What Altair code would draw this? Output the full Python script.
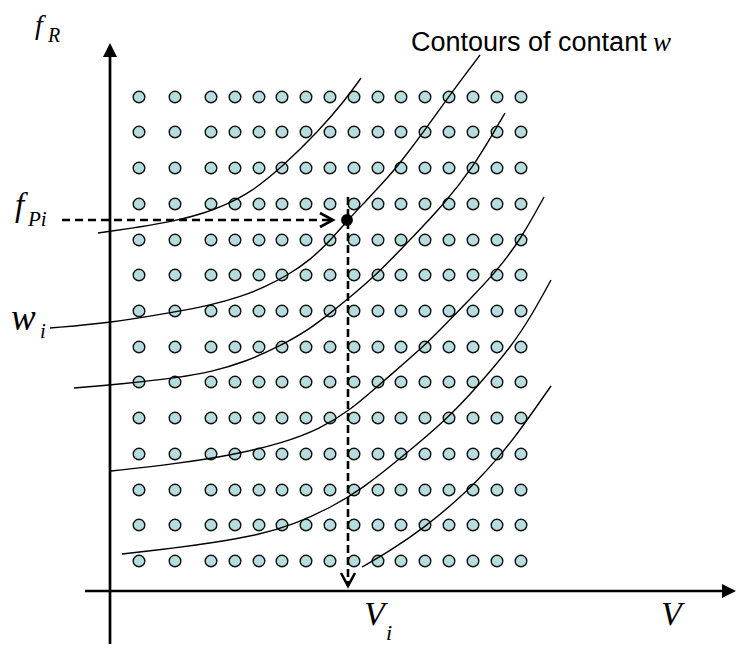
import altair as alt
import pandas as pd

# ---- data (units: V to the right of the f_R axis, f_R above the V axis) ----
V_GRID = [29, 65, 101, 125, 149, 172, 196, 220, 244, 268, 291, 315, 339, 363, 387, 411]
F_GRID = [30, 66, 101, 137, 173, 209, 244, 280, 316, 351, 387, 423, 459, 494]

W1_V = [-12, 30, 65, 95, 115, 140, 172, 208, 236, 251]
W1_F = [358, 364, 370, 378, 386, 398, 424, 459, 492, 513]
W2_V = [-60, 0, 65, 101, 130, 155, 178, 200, 220, 237, 255, 280, 290, 315, 339, 370]
W2_F = [263, 268, 279, 286, 294, 304, 316, 331, 350, 370, 389, 416, 428, 461, 495, 536]
W3_V = [-36, 0, 29, 65, 101, 135, 170, 197, 223, 245, 266, 301, 335, 363, 384, 395]
W3_F = [203, 206, 209, 213, 219, 229, 245, 260, 280, 298, 316, 352, 388, 424, 459, 478]
W4_V = [1, 65, 123, 173, 210, 240, 262, 290, 315, 335, 358, 386, 411, 434]
W4_F = [120, 127, 136, 148, 162, 181, 200, 224, 246, 266, 290, 319, 352, 394]
W5_V = [12, 65, 101, 149, 185, 220, 252, 292, 337, 366, 402, 423, 441]
W5_F = [37, 43, 48, 56, 67, 83, 102, 134, 172, 203, 245, 278, 311]
W6_V = [252, 280, 315, 345, 368, 387, 405, 422, 441]
W6_F = [24, 40, 64, 89, 111, 132, 154, 178, 205]

V_I = 238      # chosen V_i
F_PI = 371     # corresponding f_Pi

grid = pd.DataFrame([(v, f) for f in F_GRID for v in V_GRID], columns=["V", "f"])

curves = []
for name, vs, fs in [("w1", W1_V, W1_F), ("w2", W2_V, W2_F), ("w3", W3_V, W3_F),
                     ("w4", W4_V, W4_F), ("w5", W5_V, W5_F), ("w6", W6_V, W6_F)]:
    for k, (v, f) in enumerate(zip(vs, fs)):
        curves.append({"curve": name, "k": k, "V": v, "f": f})
curves = pd.DataFrame(curves)

# ---- scales ----
XS = alt.Scale(domain=[-102, 627], nice=False, zero=False)
YS = alt.Scale(domain=[-53, 583], nice=False, zero=False)


def X(v):
    return alt.XDatum(v, scale=XS, axis=None)


def Y(f):
    return alt.YDatum(f, scale=YS, axis=None)


def X2(v):
    return alt.X2Datum(v)


def Y2(f):
    return alt.Y2Datum(f)


base_x = alt.X("V:Q", scale=XS, axis=None)
base_y = alt.Y("f:Q", scale=YS, axis=None)

dots = alt.Chart(grid).mark_circle(
    size=135, fill="#B6DCDE", stroke="#111111", strokeWidth=1.4, opacity=1
).encode(x=base_x, y=base_y)

lines = alt.Chart(curves).mark_line(
    interpolate="basis", color="black", strokeWidth=1.4
).encode(x=base_x, y=base_y, detail="curve:N", order="k:Q")

# axes
axis_y = alt.Chart().mark_rule(color="black", strokeWidth=2.7).encode(
    x=X(0), y=Y(-53), y2=Y2(541))
axis_x = alt.Chart().mark_rule(color="black", strokeWidth=2.7).encode(
    y=Y(0), x=X(-25), x2=X2(619))
tri = "M0,-1L1,1L-1,1Z"
arrow_y = alt.Chart().mark_point(shape=tri, filled=True, size=196, color="black",
                                 opacity=1).encode(x=X(0), y=Y(541))
arrow_x = alt.Chart().mark_point(shape=tri, filled=True, size=196, color="black",
                                 opacity=1, angle=90).encode(x=X(619), y=Y(0))

# dashed construction lines
dash_h = alt.Chart().mark_rule(color="black", strokeWidth=2.6, strokeDash=[8, 5]).encode(
    y=Y(F_PI), x=X(-48), x2=X2(V_I - 15))
dash_v = alt.Chart().mark_rule(color="black", strokeWidth=2.6, strokeDash=[8, 4]).encode(
    x=X(V_I), y=Y(394), y2=Y2(5))
chev_r = alt.Chart().mark_point(shape="M-1.857,-1L0,0L-1.857,1", filled=False, size=196,
                                color="black", strokeWidth=2.6, opacity=1).encode(
    x=X(V_I - 15), y=Y(F_PI))
chev_d = alt.Chart().mark_point(shape="M-1,-1.857L0,0L1,-1.857", filled=False, size=196,
                                color="black", strokeWidth=2.6, opacity=1).encode(
    x=X(V_I), y=Y(5))
pt = alt.Chart().mark_circle(size=140, color="black", opacity=1).encode(
    x=X(V_I - 1), y=Y(F_PI))


def txt(s, v, f, size, italic=True, family="Liberation Serif"):
    kw = dict(text=s, font=family, fontSize=size, align="left", baseline="alphabetic",
              color="black")
    if italic:
        kw["fontStyle"] = "italic"
    return alt.Chart().mark_text(**kw).encode(x=X(v), y=Y(f))


labels = [
    txt("f", -75, 557, 28), txt("R", -62, 549, 20),
    txt("f", -95, 375, 33), txt("Pi", -82, 365, 21),
    txt("w", -99, 261, 37), txt("i", -70, 253, 21),
    txt("V", 254, -34, 34), txt("i", 276, -49, 22),
    txt("V", 551, -34, 34),
    txt("Contours of contant ", 301, 540, 27, italic=False, family="Liberation Sans"),
    txt("w", 543, 540, 27),
]

chart = alt.layer(
    dots, lines, axis_y, axis_x, arrow_y, arrow_x,
    dash_h, dash_v, chev_r, chev_d, pt, *labels
).properties(
    width=729, height=636, padding=0, autosize=alt.AutoSizeParams(type="none"),
    background="white"
).configure_view(stroke=None)

chart.save("out.html", embed_options={"renderer": "svg", "actions": False})
